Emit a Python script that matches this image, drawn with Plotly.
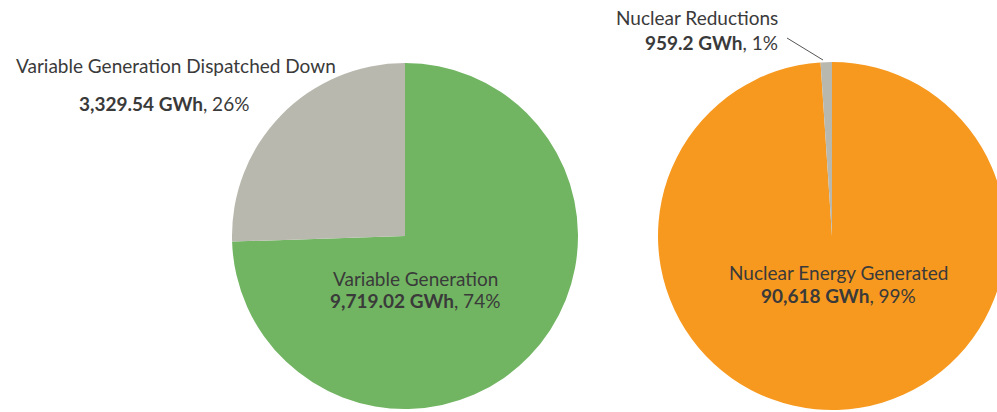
import plotly.graph_objects as go

# ---- data ----
vg_labels = ["Variable Generation", "Variable Generation Dispatched Down"]
vg_values = [9719.02, 3329.54]
vg_pct = ["74%", "26%"]

nuc_labels = ["Nuclear Energy Generated", "Nuclear Reductions"]
nuc_values = [90618, 959.2]
nuc_pct = ["99%", "1%"]

colors_vg = ["#71b562", "#b9b8ae"]
colors_nuc = ["#f7991f", "#b9b8ae"]

W, H = 1008, 412
FONT = "Lato"
TXT = "#3a3a3a"


def px(x):
    return x / W


def py(y):
    return 1 - y / H


fig = go.Figure()
fig.add_trace(go.Pie(
    labels=vg_labels, values=vg_values, sort=False, direction="clockwise",
    rotation=0, marker=dict(colors=colors_vg, line=dict(width=0)),
    textinfo="none", hoverinfo="label+value+percent",
    domain=dict(x=[px(232), px(578)], y=[py(409), py(63)]),
))
fig.add_trace(go.Pie(
    labels=nuc_labels, values=nuc_values, sort=False, direction="clockwise",
    rotation=0, marker=dict(colors=colors_nuc, line=dict(width=0)),
    textinfo="none", hoverinfo="label+value+percent",
    domain=dict(x=[px(658), px(1006)], y=[py(410), py(62)]),
))


def fmt(v, dec):
    return f"{v:,.{dec}f}"


ann = []


def add(text, x, y, xanchor="center", bold=None, pct=None):
    if bold is not None:
        text = f"<b>{bold} GWh</b>, {pct}"
    ann.append(dict(text=text, x=px(x), y=py(y), xref="paper", yref="paper",
                    xanchor=xanchor, yanchor="middle", showarrow=False,
                    font=dict(family=FONT, size=19, color=TXT)))


add(vg_labels[1], 176, 65)
add(None, 164, 103, bold=fmt(vg_values[1], 2), pct=vg_pct[1])
add(vg_labels[0], 415, 278)
add(None, 415, 300, bold=fmt(vg_values[0], 2), pct=vg_pct[0])
add(nuc_labels[1], 780, 18, xanchor="right")
add(None, 780, 43, xanchor="right", bold=fmt(nuc_values[1], 1), pct=nuc_pct[1])
add(nuc_labels[0], 838, 272)
add(None, 838, 295, bold=fmt(nuc_values[0], 0), pct=nuc_pct[0])

fig.update_layout(
    width=W, height=H, autosize=False,
    margin=dict(l=0, r=0, t=0, b=0),
    paper_bgcolor="white", plot_bgcolor="white",
    showlegend=False,
    annotations=ann,
    shapes=[dict(type="line", xref="paper", yref="paper",
                 x0=px(787), y0=py(38), x1=px(823), y1=py(60),
                 line=dict(color="#555555", width=1))],
)

fig.write_html(
    "out.html",
    config={"displayModeBar": False},
    post_script="document.body.style.margin='0';document.body.style.overflow='hidden';document.documentElement.style.overflow='hidden';",
)
